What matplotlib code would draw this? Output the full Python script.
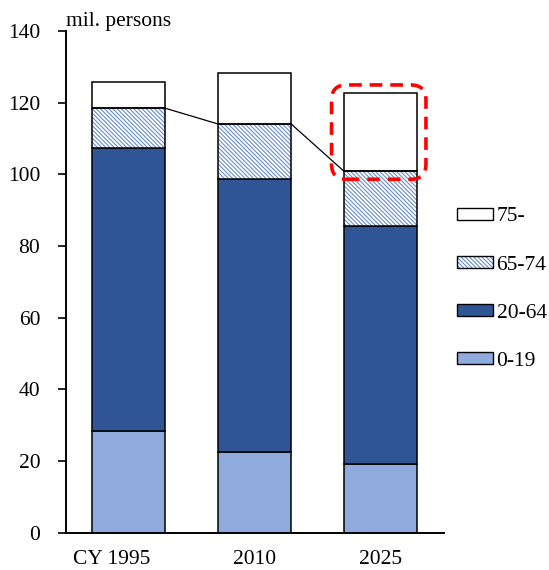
import matplotlib.pyplot as plt
import matplotlib.patches as mpatches
import matplotlib.transforms as mtransforms
import numpy as np

plt.rcParams['font.family'] = ['Liberation Serif', 'DejaVu Serif']
plt.rcParams['hatch.linewidth'] = 0.8

# population by age group (mil. persons)
years = ['CY 1995', '2010', '2025']
age_0_19 = [28.4, 22.7, 19.3]
age_20_64 = [78.9, 75.9, 66.4]
age_65_74 = [11.1, 15.4, 15.1]
age_75 = [7.3, 14.2, 21.8]

light_blue = '#8faadc'
dark_blue = '#2f5597'
hatch_blue = '#6a8ccc'
fs = 15.5

fig = plt.figure(figsize=(5.49, 5.70), dpi=100)
ax = fig.add_axes([0.12, 0.065, 0.688, 0.881])

x = np.arange(len(years))
w = 0.58
b1 = np.array(age_0_19)
b2 = b1 + np.array(age_20_64)
b3 = b2 + np.array(age_65_74)

ax.bar(x, age_0_19, w, color=light_blue, edgecolor='black', lw=1.1, zorder=2)
ax.bar(x, age_20_64, w, bottom=b1, color=dark_blue, edgecolor='black', lw=1.1, zorder=2)
# hatch colour follows edgecolor, so the black outline is a second pass
ax.bar(x, age_65_74, w, bottom=b2, color='white', edgecolor=hatch_blue, lw=0,
       hatch='\\' * 8, zorder=2)
ax.bar(x, age_65_74, w, bottom=b2, fill=False, edgecolor='black', lw=1.1, zorder=3)
ax.bar(x, age_75, w, bottom=b3, color='white', edgecolor='black', lw=1.1, zorder=2)

# lines joining the tops of the 65-74 segments
for i in range(len(x) - 1):
    ax.plot([x[i] + w / 2, x[i + 1] - w / 2], [b3[i], b3[i + 1]],
            color='black', lw=0.9, zorder=1)

# highlight around the 75- segment of 2025
ppu_x = 126.0
ppu_y = 502.0 / 140
box = mpatches.FancyBboxPatch((1.61, 98.6), 0.75, 26.3,
                              boxstyle='round,pad=0,rounding_size=0.12',
                              mutation_aspect=ppu_x / ppu_y,
                              fill=False, edgecolor='#ff0000', lw=2.6,
                              linestyle=(0, (3.5, 2.2)), zorder=4, clip_on=False)
ax.add_patch(box)

ax.set_xlim(-0.5, 2.5)
ax.set_ylim(0, 140)
ax.set_yticks(np.arange(0, 141, 20))
ax.set_xticks(x)
ax.set_xticklabels(years)
ax.tick_params(axis='y', direction='out', length=6, width=1.2, pad=12.5, labelsize=fs)
ax.tick_params(axis='x', length=0, pad=12.5, labelsize=fs)
shift = mtransforms.ScaledTranslation(-17 / 100, 0, fig.dpi_scale_trans)
xl = ax.get_xticklabels()
xl[0].set_transform(xl[0].get_transform() + shift)

for s in ['top', 'right']:
    ax.spines[s].set_visible(False)
ax.spines['left'].set_linewidth(1.4)
ax.spines['bottom'].set_linewidth(1.4)

ax.text(0.0, 1.0, 'mil. persons', transform=ax.transAxes, fontsize=fs,
        ha='left', va='bottom')

# legend
h75 = mpatches.Patch(facecolor='white', edgecolor='black', lw=1.0)
h6574 = (mpatches.Patch(facecolor='white', edgecolor=hatch_blue, lw=0, hatch='\\' * 8),
         mpatches.Patch(fill=False, edgecolor='black', lw=1.0))
h2064 = mpatches.Patch(facecolor=dark_blue, edgecolor='black', lw=1.0)
h019 = mpatches.Patch(facecolor=light_blue, edgecolor='black', lw=1.0)
fig.legend([h75, h6574, h2064, h019], ['75-', '65-74', '20-64', '0-19'],
           loc='upper left', bbox_to_anchor=(0.832, 0.636), frameon=False,
           fontsize=fs, handlelength=1.67, handleheight=0.51,
           handletextpad=0.18, labelspacing=1.35, borderaxespad=0, borderpad=0)

fig.savefig('out.png', dpi=100)
